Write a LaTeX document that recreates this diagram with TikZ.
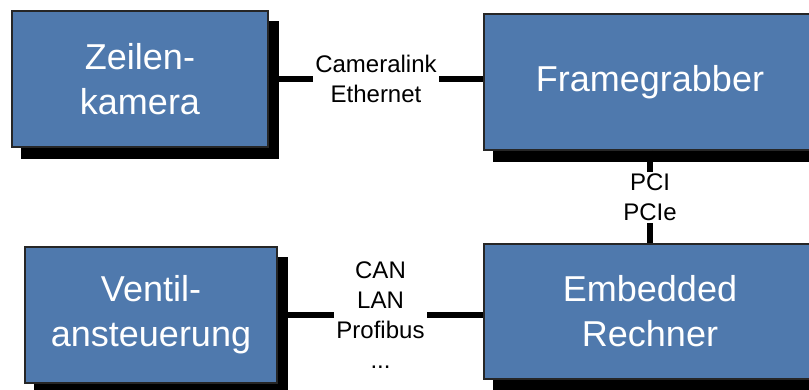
\documentclass[tikz,border=0pt]{standalone}
\usepackage{fontspec}
\setmainfont{Liberation Sans}
\usetikzlibrary{shadows}
\definecolor{boxblue}{RGB}{79,121,173}
\tikzset{
  block/.style={draw=black!85, line width=1.2pt, fill=boxblue, text=white,
    align=center, inner sep=0pt, font=\fontsize{36}{45}\selectfont,
    copy shadow={shadow xshift=10pt, shadow yshift=-11pt, fill=black, draw=black}},
  bus/.style={line width=5.5pt},
  buslabel/.style={fill=white, align=center, inner sep=2pt,
    font=\fontsize{24}{30}\selectfont}
}
\begin{document}
\begin{tikzpicture}[x=1pt, y=-1pt]
    \useasboundingbox (0,0) rectangle (809,389);
    % Bloecke
    \node[block, minimum width=256pt, minimum height=136pt] (zk) at (140,79) {Zeilen-\\kamera};
    \node[block, minimum width=332pt, minimum height=136pt] (fg) at (650,82) {Framegrabber};
    \node[block, minimum width=252pt, minimum height=136pt] (va) at (151,315) {Ventil-\\ansteuerung};
    \node[block, minimum width=332pt, minimum height=135pt] (er) at (650,311.5) {Embedded\\Rechner};
    % Verbindungen
    \draw[bus] (zk.east) -- node[buslabel] {Cameralink\\Ethernet} (zk.east -| fg.west);
    \draw[bus] (fg.south) -- node[buslabel] {PCI\\PCIe} (er.north);
    \draw[bus] (va.east) -- node[buslabel] {CAN\\LAN\\Profibus\\...} (va.east -| er.west);
\end{tikzpicture}
\end{document}
